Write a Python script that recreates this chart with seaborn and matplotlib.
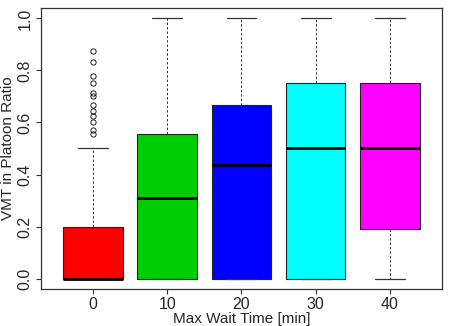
import numpy as np
import pandas as pd
import matplotlib
matplotlib.use("Agg")
import matplotlib.pyplot as plt
import seaborn as sns

# ---- data ----
wait_times = ["0", "10", "20", "30", "40"]
whisker_low = [0.0, 0.0, 0.0, 0.0, 0.0]
q1 = [0.0, 0.0, 0.0, 0.0, 0.19]
median = [0.0, 0.31, 0.4375, 0.5, 0.5]
q3 = [0.2, 0.556, 0.667, 0.75, 0.75]
whisker_high = [0.5, 1.0, 1.0, 1.0, 1.0]
outliers_0 = [0.875, 0.833, 0.778, 0.75, 0.714, 0.70, 0.667, 0.643,
              0.625, 0.60, 0.571, 0.556]
box_colors = ["#FF0000", "#00CD00", "#0000FF", "#00FFFF", "#FF00FF"]

# rebuild observation samples reproducing each box summary
weight = 20
rows = []
for i, w in enumerate(wait_times):
    vals = ([whisker_low[i]] + [q1[i]] * weight + [median[i]] * weight
            + [q3[i]] * weight + [whisker_high[i]])
    if i == 0:
        vals += outliers_0
    rows += [(w, v) for v in vals]
df = pd.DataFrame(rows, columns=["wait", "ratio"])

sns.set_style("white")
plt.rcParams["font.family"] = ["Liberation Sans", "DejaVu Sans"]

fig = plt.figure(figsize=(4.5, 3.26), dpi=100)
ax = fig.add_axes([0.091, 0.1135, 0.891, 0.862])

sns.boxplot(data=df, x="wait", y="ratio", hue="wait", order=wait_times,
            hue_order=wait_times, palette=box_colors, legend=False,
            width=0.8, dodge=False, whis=1.5, ax=ax, saturation=1,
            linecolor="#222222", linewidth=0.8,
            whiskerprops=dict(linestyle=(0, (2.5, 2)), linewidth=0.7, color="#333333"),
            capprops=dict(linewidth=0.9, color="#333333"),
            medianprops=dict(linewidth=2.0, color="black"),
            flierprops=dict(marker="o", markerfacecolor="none",
                            markeredgecolor="black", markersize=3.8,
                            markeredgewidth=0.6))

ax.set_xlim(-0.7, 4.7)
ax.set_ylim(-0.04, 1.04)
ax.set_yticks([0.0, 0.2, 0.4, 0.6, 0.8, 1.0])
ax.set_yticklabels(["0.0", "0.2", "0.4", "0.6", "0.8", "1.0"], rotation=90,
                   va="center")
ax.tick_params(axis="both", direction="out", length=3.6, width=0.8,
               color="#333333", labelsize=11.5, left=True, bottom=True, pad=2.5)
ax.set_xlabel("Max Wait Time [min]", fontsize=11, labelpad=0)
ax.set_ylabel("VMT in Platoon Ratio", fontsize=11, labelpad=1.5)
for s in ax.spines.values():
    s.set_visible(True)
    s.set_color("#333333")
    s.set_linewidth(0.9)

fig.savefig("out.png", dpi=100)
